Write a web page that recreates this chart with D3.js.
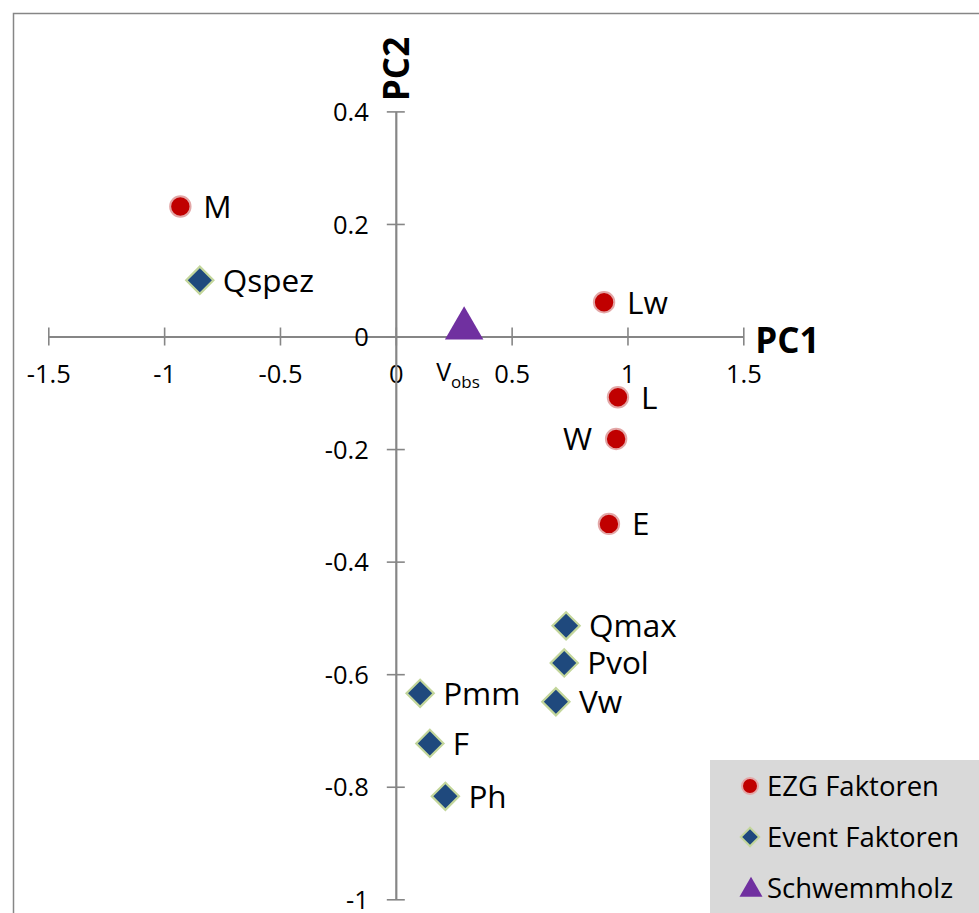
<!DOCTYPE html>
<html>
<head>
<meta charset="utf-8">
<script src="https://d3js.org/d3.v7.min.js"></script>
<style>
  html, body { margin: 0; padding: 0; background: #fff; }
  svg { display: block; font-family: "Open Sans", "Noto Sans", sans-serif; }
</style>
</head>
<body>
<svg id="chart" width="979" height="913"></svg>
<script>
// PCA loadings: catchment (EZG) factors, event factors and observed driftwood volume
const ezgNames = ["M", "Lw", "L", "W", "E"];
const ezgPC1   = [-0.930, 0.899, 0.959, 0.951, 0.920];
const ezgPC2   = [0.231, 0.061, -0.108, -0.182, -0.333];

const eventNames = ["Qspez", "Qmax", "Pvol", "Vw", "Pmm", "F", "Ph"];
const eventPC1   = [-0.846, 0.735, 0.727, 0.691, 0.105, 0.147, 0.214];
const eventPC2   = [0.100, -0.514, -0.580, -0.649, -0.634, -0.723, -0.817];

const woodPC1 = [0.295];
const woodPC2 = [0.018];

const xTicks = [-1.5, -1, -0.5, 0, 0.5, 1, 1.5];
const yTicks = [-1, -0.8, -0.6, -0.4, -0.2, 0, 0.2, 0.4];

const legendLabels = ["EZG Faktoren", "Event Faktoren", "Schwemmholz"];

// labels drawn on the left side of their marker
const leftLabels = ["W"];

const svg = d3.select("#chart");

const x = d3.scaleLinear().domain([-1.5, 1.5]).range([48.3, 743.3]);
const y = d3.scaleLinear().domain([-1, 0.4]).range([899.3, 111.4]);

const axisColor = "#868686";
const red = "#c00000", redEdge = "#e3a7a7";
const blue = "#1f497d", blueEdge = "#c3d69b";
const purple = "#7030a0";

// chart frame
svg.append("rect")
  .attr("x", 13.5).attr("y", 13.5)
  .attr("width", 1000).attr("height", 1000)
  .attr("fill", "#fff").attr("stroke", axisColor).attr("stroke-width", 1.5);

// horizontal axis through y = 0
const gx = svg.append("g")
  .attr("transform", `translate(0,${y(0)})`)
  .call(d3.axisBottom(x).tickValues(xTicks).tickSize(9).tickSizeOuter(0).tickFormat(d => String(d)));
gx.select(".domain").attr("stroke", axisColor).attr("stroke-width", 2.2);
gx.selectAll(".tick line").attr("y1", -9).attr("y2", 9).attr("stroke", axisColor).attr("stroke-width", 1.6);
gx.selectAll(".tick text")
  .attr("y", 46).attr("dy", 0)
  .attr("fill", "#000").attr("font-size", 25.5).attr("font-family", "Open Sans");

// vertical axis through x = 0
const gy = svg.append("g")
  .attr("transform", `translate(${x(0)},0)`)
  .call(d3.axisLeft(y).tickValues(yTicks).tickSize(9).tickSizeOuter(0).tickFormat(d => String(d)));
gy.select(".domain").attr("stroke", axisColor).attr("stroke-width", 2.2);
gy.selectAll(".tick line").attr("x1", -9).attr("x2", 9).attr("stroke", axisColor).attr("stroke-width", 1.6);
gy.selectAll(".tick text")
  .attr("x", -27).attr("dy", "0.36em")
  .attr("fill", "#000").attr("font-size", 25.5).attr("font-family", "Open Sans");

// axis titles
svg.append("text")
  .attr("x", x(1.5) + 12).attr("y", y(0) + 16)
  .attr("font-size", 35).attr("font-weight", 700)
  .text("PC1");
svg.append("text")
  .attr("transform", `translate(${x(0) + 13},${69}) rotate(-90)`)
  .attr("text-anchor", "middle")
  .attr("font-size", 35).attr("font-weight", 700)
  .text("PC2");

// event factors (diamonds)
const events = eventNames.map((n, i) => ({ name: n, px: eventPC1[i], py: eventPC2[i] }));
svg.append("g").selectAll("path").data(events).join("path")
  .attr("d", d3.symbol().type(d3.symbolSquare).size(370)())
  .attr("transform", d => `translate(${x(d.px)},${y(d.py)}) rotate(45)`)
  .attr("fill", blue).attr("stroke", blueEdge).attr("stroke-width", 2.2);

// catchment factors (circles)
const ezg = ezgNames.map((n, i) => ({ name: n, px: ezgPC1[i], py: ezgPC2[i] }));
svg.append("g").selectAll("circle").data(ezg).join("circle")
  .attr("cx", d => x(d.px)).attr("cy", d => y(d.py))
  .attr("r", 10.2)
  .attr("fill", red).attr("stroke", redEdge).attr("stroke-width", 2);

// driftwood volume (triangle)
const wood = woodPC1.map((v, i) => ({ px: v, py: woodPC2[i] }));
svg.append("g").selectAll("path").data(wood).join("path")
  .attr("d", d3.symbol().type(d3.symbolTriangle).size(640)())
  .attr("transform", d => `translate(${x(d.px)},${y(d.py) + 2})`)
  .attr("fill", purple);

// point labels
svg.append("g").selectAll("text").data(ezg.concat(events)).join("text")
  .attr("x", d => x(d.px) + (leftLabels.includes(d.name) ? -24 : 23))
  .attr("y", d => y(d.py))
  .attr("dy", "0.36em")
  .attr("text-anchor", d => leftLabels.includes(d.name) ? "end" : "start")
  .attr("font-size", 31.5)
  .attr("fill", "#000")
  .text(d => d.name);

// V_obs label under the triangle
const vobs = svg.append("text")
  .attr("x", x(woodPC1[0]) - 28).attr("y", y(0) + 44)
  .attr("font-size", 25).attr("fill", "#000");
vobs.append("tspan").text("V");
vobs.append("tspan").attr("font-size", 17).attr("dy", 7).text("obs");

// legend
const lg = svg.append("g");
lg.append("rect").attr("x", 710).attr("y", 760).attr("width", 280).attr("height", 170).attr("fill", "#d9d9d9");
const ly = [786, 837, 888];
lg.append("circle").attr("cx", 750).attr("cy", ly[0]).attr("r", 8)
  .attr("fill", red).attr("stroke", redEdge).attr("stroke-width", 2);
lg.append("path").attr("d", d3.symbol().type(d3.symbolSquare).size(170)())
  .attr("transform", `translate(750,${ly[1]}) rotate(45)`)
  .attr("fill", blue).attr("stroke", blueEdge).attr("stroke-width", 2);
lg.append("path").attr("d", d3.symbol().type(d3.symbolTriangle).size(230)())
  .attr("transform", `translate(751,${ly[2] + 2})`)
  .attr("fill", purple);
lg.selectAll("text").data(legendLabels).join("text")
  .attr("x", 767).attr("y", (d, i) => ly[i]).attr("dy", "0.36em")
  .attr("font-size", 27.5).attr("fill", "#000")
  .text(d => d);
</script>
</body>
</html>
